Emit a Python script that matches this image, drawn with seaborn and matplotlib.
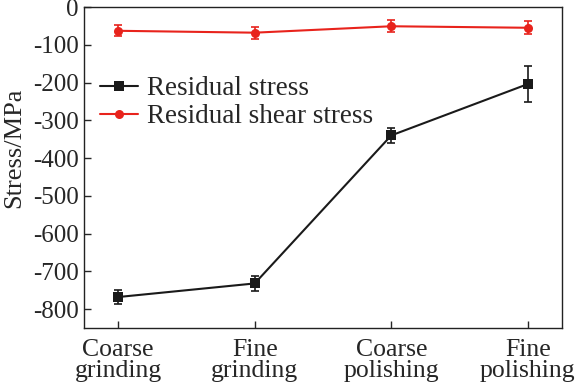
import numpy as np
import pandas as pd
import matplotlib
matplotlib.use("Agg")
import matplotlib.pyplot as plt
import seaborn as sns

# dados
etapas = ["Coarse\ngrinding", "Fine\ngrinding", "Coarse\npolishing", "Fine\npolishing"]
tensao = [-768, -732, -340, -204]
erro_tensao = [18, 19, 19, 47]
cisalhamento = [-63, -68, -51, -55]
erro_cisalhamento = [15, 16, 16, 17]

sns.set_style("ticks")
plt.rcParams["font.family"] = ["Liberation Serif", "DejaVu Serif"]

df = pd.DataFrame({
    "x": list(range(len(etapas))) * 2,
    "valor": tensao + cisalhamento,
    "serie": ["Residual stress"] * 4 + ["Residual shear stress"] * 4,
})

fig = plt.figure(figsize=(5.79, 3.91), dpi=100)
ax = fig.add_axes([84 / 579, 1 - 328 / 391, (562 - 84) / 579, (328 - 7) / 391])

cores = {"Residual stress": "#1a1a1a", "Residual shear stress": "#e8231c"}
sns.lineplot(data=df, x="x", y="valor", hue="serie", style="serie",
             markers={"Residual stress": "s", "Residual shear stress": "o"},
             dashes=False, palette=cores, linewidth=1.5, markersize=6.5,
             markeredgewidth=0, ax=ax)

x = np.arange(len(etapas))
ax.errorbar(x, tensao, yerr=erro_tensao, fmt="none", ecolor=cores["Residual stress"],
            elinewidth=1.2, capsize=3, capthick=1.2)
ax.errorbar(x, cisalhamento, yerr=erro_cisalhamento, fmt="none",
            ecolor=cores["Residual shear stress"], elinewidth=1.2, capsize=3, capthick=1.2)

ax.set_xlim(-0.25, 3.25)
ax.set_ylim(-850, 0)
ax.set_yticks(np.arange(-800, 1, 100))
ax.set_yticklabels([str(v) for v in np.arange(-800, 1, 100)])
ax.set_xticks(x)
ax.set_xticklabels(etapas, fontsize=18.5, linespacing=0.95)
ax.tick_params(axis="y", labelsize=18, direction="in", length=5, width=1, pad=4)
ax.tick_params(axis="x", direction="in", length=5, width=1, pad=8)
ax.set_xlabel("")
ax.set_ylabel("Stress/MPa", fontsize=19)
ax.yaxis.set_label_coords(-0.122, 0.562)
for s in ax.spines.values():
    s.set_linewidth(1.0)
    s.set_color("#222222")

ax.legend(loc="upper left", bbox_to_anchor=(0.033, 0.785), frameon=False, fontsize=19.5,
          handlelength=1.4, handletextpad=0.33, labelspacing=0.12,
          borderpad=0, borderaxespad=0)

fig.savefig("out.png", dpi=100)
